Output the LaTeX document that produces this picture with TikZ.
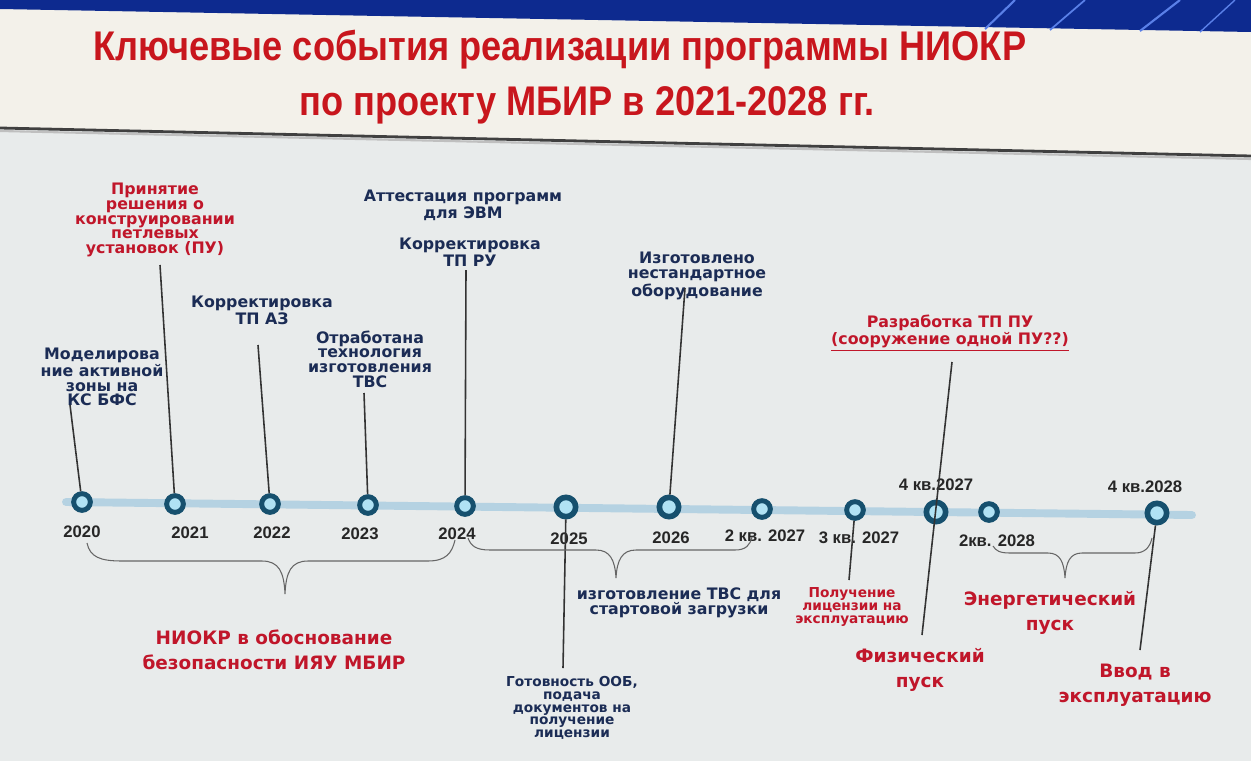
\documentclass[tikz,border=0pt]{standalone}
\usepackage{fontspec}
\usepackage{graphicx}
\setmainfont{DejaVu Sans}
\newfontfamily\arialf{Liberation Sans}
\usetikzlibrary{calc}
\definecolor{navy}{HTML}{1B2C55}
\definecolor{tred}{HTML}{C8161D}
\definecolor{lred}{HTML}{C0162A}
\definecolor{ring}{HTML}{16506E}
\definecolor{ringfill}{HTML}{B0E2F4}
\definecolor{tline}{HTML}{B5D2E2}
\definecolor{stemc}{HTML}{333333}
\definecolor{bandc}{HTML}{0D2A8F}
\definecolor{streak}{HTML}{5A80E8}
\definecolor{slidetop}{HTML}{F3F1EA}
\definecolor{slidebot}{HTML}{E8EBEB}
\begin{document}
\begin{tikzpicture}[x=0.02cm,y=-0.02cm,
  lbl/.style={font=\fontsize{9}{8.4}\selectfont\bfseries, text=navy, align=center, inner sep=0pt},
  rlbl/.style={lbl, text=lred},
  slbl/.style={font=\fontsize{7.8}{7.2}\selectfont\bfseries, text=navy, align=center, inner sep=0pt},
  srlbl/.style={slbl, text=lred},
  big/.style={font=\fontsize{10.5}{14}\selectfont\bfseries, text=lred, align=center, inner sep=0pt},
  yr/.style={font=\arialf\fontsize{9.5}{10}\selectfont\bfseries, text=black!85, inner sep=0pt},
  dot/.style={circle, draw=ring, line width=2.8pt, fill=ringfill, minimum size=9.5pt, inner sep=0pt},
  bdot/.style={dot, minimum size=11pt, line width=3.2pt},
  stem/.style={draw=stemc, line width=0.9pt},
  brace/.style={draw=black!60, line width=0.6pt},
  titlef/.style={font=\arialf\fontsize{20}{22}\selectfont\bfseries, text=tred, inner sep=0pt}
]
\useasboundingbox (0,0) rectangle (1251,761);
% background
\fill[slidebot] (0,0) rectangle (1251,761);
\fill[slidetop] (0,0) -- (1251,0) -- (1251,156) -- (0,128) -- cycle;
\fill[bandc] (0,0) -- (1251,0) -- (1251,32) -- (0,9) -- cycle;
\draw[streak, line width=1.2pt] (985,29) -- (1015,0);
\draw[streak, line width=1pt] (1050,30) -- (1085,0);
\draw[streak, line width=1.2pt] (1140,31) -- (1180,0);
\draw[streak, line width=0.8pt] (1200,32) -- (1235,0);
\draw[black!75, line width=1.6pt] (0,128) -- (1251,156);
\draw[black!25, line width=1.2pt] (0,131) -- (1251,159);
% title
\node[titlef] (title1) at (560,50) {\scalebox{1.03}[1.18]{Ключевые события реализации программы НИОКР}};
\node[titlef] (title2) at (587,105) {\scalebox{1.03}[1.18]{по проекту МБИР в 2021-2028 гг.}};
% timeline
\coordinate (tlL) at (66,502);
\coordinate (tlR) at (1192,515);
\draw[tline, line width=4.5pt, line cap=round] (tlL) -- (tlR);
% circles
\node[dot] (c20) at (82,502) {};
\node[dot] (c21) at (175,504) {};
\node[dot] (c22) at (270,504) {};
\node[dot] (c23) at (368,505) {};
\node[dot] (c24) at (465,506) {};
\node[bdot] (c25) at (566,507) {};
\node[bdot] (c26) at (669,507) {};
\node[dot] (c27b) at (762,509) {};
\node[dot] (c27c) at (855,510) {};
\node[bdot] (c27d) at (936,512) {};
\node[dot] (c28b) at (989,512) {};
\node[bdot] (c28d) at (1157,513) {};
% year labels
\node[yr] (y20) at (82,532) {2020};
\node[yr] (y21) at (190,533) {2021};
\node[yr] (y22) at (272,533) {2022};
\node[yr] (y23) at (360,534) {2023};
\node[yr] (y24) at (457,534) {2024};
\node[yr] (y25) at (569,539) {2025};
\node[yr] (y26) at (671,538) {2026};
\node[yr] (y27b) at (765,536) {2 кв. 2027};
\node[yr] (y27c) at (859,538) {3 кв. 2027};
\node[yr] (y28b) at (997,541) {2кв. 2028};
\node[yr] (y27d) at (936,485) {4 кв.2027};
\node[yr] (y28d) at (1145,487) {4 кв.2028};
% top labels
\node[lbl] (l20) at (102,377) {Моделирова\\ние активной\\зоны на\\КС БФС};
\node[rlbl] (l21) at (155,220) {Принятие\\решения о\\конструировании\\петлевых\\установок (ПУ)};
\node[lbl] (l22) at (262,310) {Корректировка\\ТП АЗ};
\node[lbl] (l23) at (370,359) {Отработана\\технология\\изготовления\\ТВС};
\node[lbl] (l24a) at (463,205) {Аттестация программ\\для ЭВМ};
\node[lbl] (l24b) at (470,252) {Корректировка\\ТП РУ};
\node[lbl] (l26) at (697,276) {Изготовлено\\нестандартное\\оборудование};
\node[rlbl] (l27d) at (950,333) {Разработка ТП ПУ\\\underline{(сооружение одной ПУ??)}};
% bottom labels
\node[slbl] (l25) at (572,708) {Готовность ООБ,\\подача\\документов на\\получение\\лицензии};
\node[lbl] (lb2) at (679,603) {изготовление ТВС для\\стартовой загрузки};
\node[srlbl] (l27c) at (852,607) {Получение\\лицензии на\\эксплуатацию};
\node[big] (l27f) at (920,670) {Физический\\пуск};
\node[big] (lb3) at (1050,613) {Энергетический\\пуск};
\node[big] (l28d) at (1135,685) {Ввод в\\эксплуатацию};
\node[big] (lb1) at (274,650) {НИОКР в обоснование\\безопасности ИЯУ МБИР};
% stems
\coordinate (s20) at (70,405);
\coordinate (s21) at (160,265);
\coordinate (s22) at (258,345);
\coordinate (s23) at (364,393);
\coordinate (s24) at (466,270);
\coordinate (s26) at (685,288);
\coordinate (s27t) at (952,362);
\coordinate (s27f) at (922,635);
\coordinate (e25) at (563,668);
\coordinate (e27c) at (849,580);
\coordinate (e28d) at (1140,650);
\draw[stem] (s20) -- (c20);
\draw[stem] (s21) -- (c21);
\draw[stem] (s22) -- (c22);
\draw[stem] (s23) -- (c23);
\draw[stem] (s24) -- (c24);
\draw[stem] (s26) -- (c26);
\draw[stem] (s27t) -- (s27f);
\draw[stem] (c25) -- (e25);
\draw[stem] (c27c) -- (e27c);
\draw[stem] (c28d) -- (e28d);
% braces
\draw[brace] (87,543) .. controls (90,557) and (100,561) .. (122,561) -- (262,561)
  .. controls (279,561) and (284,572) .. (285,594)
  .. controls (286,572) and (291,561) .. (308,561) -- (428,561)
  .. controls (446,561) and (452,553) .. (455,540);
\draw[brace] (468,538) .. controls (471,546) and (476,550) .. (490,550) -- (596,550)
  .. controls (610,550) and (615,560) .. (616,578)
  .. controls (617,560) and (622,550) .. (636,550) -- (735,550)
  .. controls (746,550) and (750,545) .. (752,537);
\draw[brace] (993,546) .. controls (996,551) and (1000,553) .. (1010,553) -- (1048,553)
  .. controls (1060,553) and (1064,562) .. (1065,578)
  .. controls (1066,562) and (1070,553) .. (1082,553) -- (1135,553)
  .. controls (1145,553) and (1150,547) .. (1152,538);
\end{tikzpicture}
\end{document}
